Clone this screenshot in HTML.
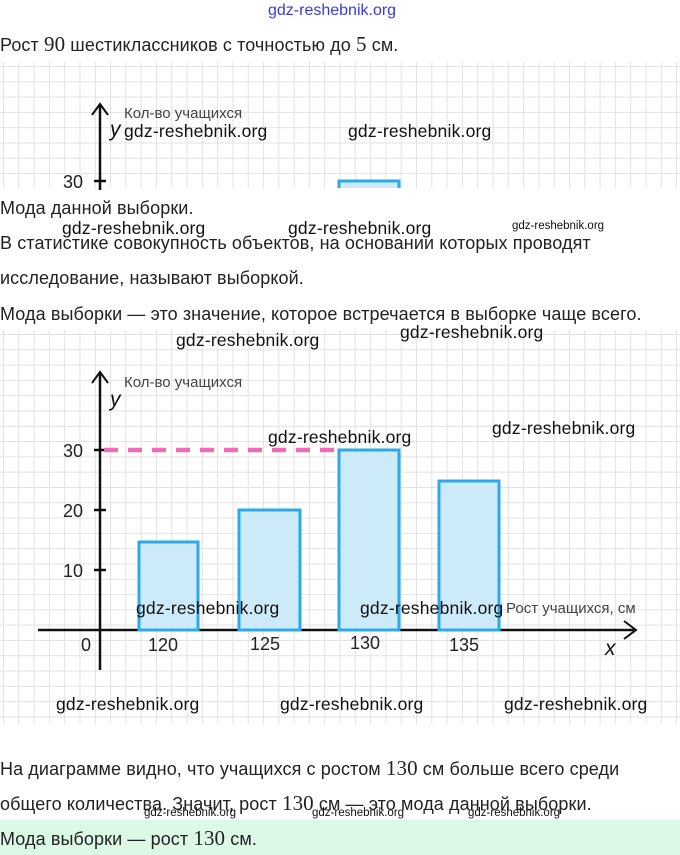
<!DOCTYPE html>
<html><head><meta charset="utf-8"><style>
body{margin:0;width:680px;height:855px;background:#fff;position:relative;overflow:hidden;font-family:"Liberation Sans","DejaVu Sans",sans-serif;color:#222}
.t{position:absolute;left:0;font-size:18px;white-space:nowrap;line-height:20px;letter-spacing:0.1px}
.w{position:absolute;font-family:"Liberation Sans",sans-serif;font-size:17.5px;color:#111;white-space:nowrap;line-height:18px;letter-spacing:0.2px}
.ws{position:absolute;font-size:11.5px;color:#111;white-space:nowrap}
.grid{position:absolute;left:0;width:680px;background-image:linear-gradient(#e2e2e2 1px,transparent 1px),linear-gradient(90deg,#e2e2e2 1px,transparent 1px);background-size:15.3px 15.3px;background-position:3px 4px}
.m{font-family:"Liberation Serif",serif;font-size:21px}
</style></head><body>
<div style="position:absolute;left:268px;top:2px;font-size:16px;color:#3b3bd6">gdz-reshebnik.org</div>
<div class="t" style="top:34px">Рост <span class="m">90</span> шестиклассников с точностью до <span class="m">5</span> см.</div>
<div class="grid" style="top:62px;height:126px"></div>
<div class="grid" style="top:330px;height:394px"></div>
<svg width="680" height="855" style="position:absolute;left:0;top:0" font-family="Liberation Sans,sans-serif">
 <line x1="100" y1="105" x2="100" y2="190" stroke="#111" stroke-width="2.5"/>
 <polyline points="92,115 100,104 108,115" fill="none" stroke="#111" stroke-width="2"/>
 <line x1="94" y1="181" x2="106" y2="181" stroke="#111" stroke-width="2.5"/>
 <text x="63" y="188" font-size="18" fill="#222">30</text>
 <text x="124" y="118" font-size="15" fill="#444">Кол-во учащихся</text>
 <text x="110" y="136" font-size="21" font-style="italic" fill="#111">y</text>
 <rect x="339" y="181" width="60" height="14" fill="#cdeaf8" stroke="#2ea9e8" stroke-width="3"/>
 <rect x="330" y="188" width="80" height="10" fill="#fff"/>
 <line x1="38" y1="630" x2="634" y2="630" stroke="#111" stroke-width="2.5"/>
 <polyline points="624,621 636,630 624,639" fill="none" stroke="#111" stroke-width="2"/>
 <line x1="100" y1="372" x2="100" y2="670" stroke="#111" stroke-width="2.5"/>
 <polyline points="92,383 100,372 108,383" fill="none" stroke="#111" stroke-width="2"/>
 <g stroke="#111" stroke-width="2.5"><line x1="94" y1="450" x2="106" y2="450"/><line x1="94" y1="510" x2="106" y2="510"/><line x1="94" y1="570" x2="106" y2="570"/></g>
 <g font-size="18" fill="#222"><text x="63" y="457">30</text><text x="63" y="517">20</text><text x="63" y="577">10</text><text x="81" y="651">0</text>
 <text x="148" y="651">120</text><text x="250" y="650">125</text><text x="350" y="649">130</text><text x="449" y="651">135</text></g>
 <text x="124" y="387" font-size="15" fill="#444">Кол-во учащихся</text>
 <text x="110" y="406" font-size="21" font-style="italic" fill="#111">y</text>
 <text x="605" y="655" font-size="21" font-style="italic" fill="#111">x</text>
 <text x="506" y="613" font-size="15" fill="#444">Рост учащихся, см</text>
 <line x1="104" y1="450" x2="338" y2="450" stroke="#ee6cb3" stroke-width="4.5" stroke-dasharray="14,10"/>
 <g fill="#cdeaf8" stroke="#2ea9e8" stroke-width="3">
 <rect x="139" y="542" width="59" height="88"/><rect x="239" y="510" width="61" height="120"/>
 <rect x="339" y="450" width="60" height="180"/><rect x="439" y="481" width="60" height="149"/></g>
</svg>
<div class="w" style="left:124px;top:122px">gdz-reshebnik.org</div>
<div class="w" style="left:348px;top:122px">gdz-reshebnik.org</div>
<div class="t" style="top:198px">Мода данной выборки.</div>
<div class="w" style="left:62px;top:219px">gdz-reshebnik.org</div>
<div class="w" style="left:288px;top:219px">gdz-reshebnik.org</div>
<div class="ws" style="left:512px;top:220px">gdz-reshebnik.org</div>
<div class="t" style="top:233px">В статистике совокупность объектов, на основании которых проводят</div>
<div class="t" style="top:268px">исследование, называют выборкой.</div>
<div class="t" style="top:304px">Мода выборки — это значение, которое встречается в выборке чаще всего.</div>
<div class="w" style="left:400px;top:323px">gdz-reshebnik.org</div>
<div class="w" style="left:176px;top:331px">gdz-reshebnik.org</div>
<div class="w" style="left:492px;top:419px">gdz-reshebnik.org</div>
<div class="w" style="left:268px;top:428px">gdz-reshebnik.org</div>
<div class="w" style="left:136px;top:599px">gdz-reshebnik.org</div>
<div class="w" style="left:360px;top:599px">gdz-reshebnik.org</div>
<div class="w" style="left:56px;top:695px">gdz-reshebnik.org</div>
<div class="w" style="left:280px;top:695px">gdz-reshebnik.org</div>
<div class="w" style="left:504px;top:695px">gdz-reshebnik.org</div>
<div class="t" style="top:758px">На диаграмме видно, что учащихся с ростом <span class="m">130</span> см больше всего среди</div>
<div class="t" style="top:793px">общего количества. Значит, рост <span class="m">130</span> см — это мода данной выборки.</div>
<div style="position:absolute;left:0;top:820px;width:680px;height:35px;background:#dcf9e6"></div>
<div class="ws" style="left:144px;top:807px">gdz-reshebnik.org</div>
<div class="ws" style="left:312px;top:807px">gdz-reshebnik.org</div>
<div class="ws" style="left:468px;top:807px">gdz-reshebnik.org</div>
<div class="t" style="top:828px">Мода выборки — рост <span class="m">130</span> см.</div>
</body></html>
